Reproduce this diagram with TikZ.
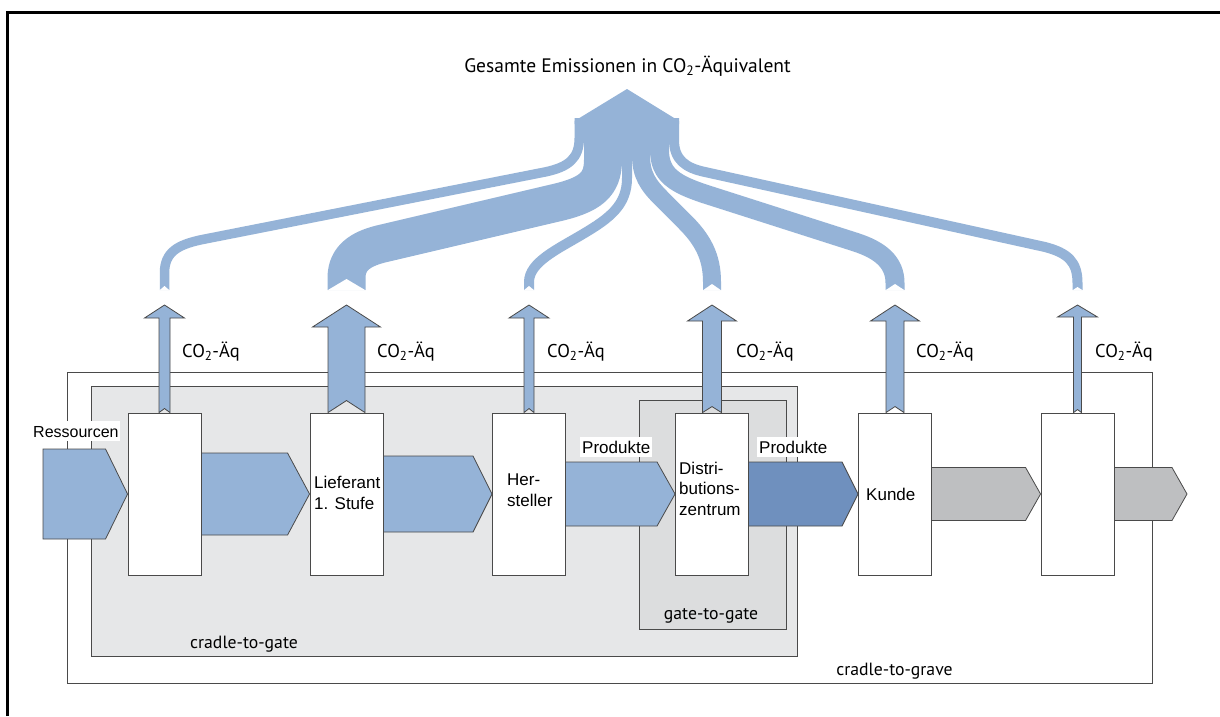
\documentclass[tikz,border=0pt]{standalone}
\usepackage{fontspec}
\setmainfont{Liberation Sans}
\newfontfamily\myriadlike{PT Sans}
\usetikzlibrary{calc}
\pgfdeclarelayer{bg}
\pgfsetlayers{bg,main}

\definecolor{flowblue}{HTML}{95B3D7}
\definecolor{flowdark}{HTML}{6F90BE}
\definecolor{flowgray}{HTML}{BEBFC1}
\definecolor{gatefill}{HTML}{E6E7E8}
\definecolor{innerfill}{HTML}{DCDDDE}
\definecolor{edgegray}{HTML}{4A4A4A}

% block arrow pointing right: style, tail point, tip point, half height, tip depth
\newcommand\flowarrow[5]{%
  \path[#1] let \p1=(#2), \p2=(#3) in
    (\x1,\y2+#4pt) -- (\x2-#5pt,\y2+#4pt) -- (\x2,\y2) -- (\x2-#5pt,\y2-#4pt) -- (\x1,\y2-#4pt) -- cycle;}
% emission arrow pointing up: base node, tip, shaft half width, head half width, head length, tail notch
\newcommand\emitarrow[6]{%
  \path[flowshape,fill=flowblue] let \p1=(#1.north), \p2=(#2) in
    (\x1-#3pt,\y1) -- (\x1-#3pt,\y2-#5pt) -- (\x1-#4pt,\y2-#5pt) -- (\x2,\y2)
    -- (\x1+#4pt,\y2-#5pt) -- (\x1+#3pt,\y2-#5pt) -- (\x1+#3pt,\y1) -- (\x1,\y1+#6pt) -- cycle;}
% fishtail at the lower end of a collecting band: x, half width, depth
\newcommand\bandnotch[3]{%
  \fill[white] (#1-#2-0.6,290.6) -- (#1,290-#3) -- (#1+#2+0.6,290.6) -- cycle;}

\begin{document}
\begin{tikzpicture}[x=1pt,y=-1pt,
  stagebox/.style={draw=edgegray,line width=0.9pt,fill=white,minimum width=73pt,minimum height=162pt,inner sep=0pt},
  scopebox/.style={draw=edgegray,line width=1pt},
  flowshape/.style={draw=edgegray,line width=0.8pt,line join=miter},
  band/.style={draw=flowblue,line cap=butt,line join=round},
  boxlabel/.style={font=\fontsize{17}{20.5}\selectfont,inner sep=0pt,align=left,anchor=base west},
  scopelabel/.style={font=\myriadlike\fontsize{17.7}{21}\selectfont,inner sep=0pt,anchor=base},
  colabel/.style={font=\myriadlike\fontsize{18.5}{22}\selectfont,inner sep=0pt,anchor=base west},
  tag/.style={fill=white,inner xsep=2pt,inner ysep=3pt,text height=13pt,text depth=1pt,anchor=base west}
]
\useasboundingbox (0,0) rectangle (1220,716);

% process stages
\node[stagebox] (s1) at (164.5,494) {};
\node[stagebox] (s2) at (346.5,494) {};
\node[stagebox] (s3) at (529,494) {};
\node[stagebox] (s4) at (712,494) {};
\node[stagebox] (s5) at (895,494) {};
\node[stagebox] (s6) at (1077.5,494) {};
\coordinate (res) at (43,494);
\coordinate (out) at (1187,494);

\begin{pgfonlayer}{bg}
  \fill[white] (0,0) rectangle (1220,716);
  \draw[line width=3pt] (7.5,716) -- (7.5,12.5) -- (1220,12.5);
  % system boundaries
  \draw[scopebox,fill=white] (67,372) rectangle (1152,683);
  \draw[scopebox,fill=gatefill] (91,386) rectangle (797,656);
  \draw[scopebox,fill=innerfill] (639,400) rectangle (786,629);
  % material flow
  \flowarrow{flowshape,fill=flowblue}{res}{s1.west}{45}{22}
  \flowarrow{flowshape,fill=flowblue}{s1.center}{s2.west}{41}{22}
  \flowarrow{flowshape,fill=flowblue}{s2.center}{s3.west}{38}{19}
  \flowarrow{flowshape,fill=flowblue}{s3.center}{s4.west}{32}{18}
  \flowarrow{flowshape,fill=flowdark}{s4.center}{s5.west}{32}{16}
  \flowarrow{flowshape,fill=flowgray}{s5.center}{s6.west}{26.5}{15}
  \flowarrow{flowshape,fill=flowgray}{s6.center}{out}{26.5}{15}
\end{pgfonlayer}

\node[scopelabel] (lgrave) at (894.5,675) {cradle-to-grave};
\node[scopelabel] (lcradle) at (244,648) {cradle-to-gate};
\node[scopelabel] (lgate) at (711,619) {gate-to-gate};

% emissions of each stage
\coordinate (e1) at (164.5,305);
\coordinate (e2) at (346.5,305);
\coordinate (e3) at (529,305);
\coordinate (e4) at (712,305);
\coordinate (e5) at (895,305);
\coordinate (e6) at (1077.5,305);
\emitarrow{s1}{e1}{5.5}{20}{13}{4}
\emitarrow{s2}{e2}{18.5}{34}{22}{12}
\emitarrow{s3}{e3}{5}{20}{13}{4}
\emitarrow{s4}{e4}{9.5}{24.5}{16}{6}
\emitarrow{s5}{e5}{9}{24.5}{16}{6}
\emitarrow{s6}{e6}{4}{20}{12}{3}

% collecting bands into the total
\draw[band,line width=9.5pt] (164.5,290) -- (164.5,273) .. controls (164.5,252) and (178,245) .. (200,240)
  -- (545,172) .. controls (569,167) and (579.25,158) .. (579.25,138) -- (579.25,118);
\draw[band,line width=38pt] (346.5,290) -- (346.5,278) .. controls (346.5,257) and (362,248) .. (385,243)
  -- (555,203) .. controls (590,195) and (603,185) .. (603,160) -- (603,118);
\draw[band,line width=10pt] (529,290) -- (529,282) .. controls (529,262) and (558,249) .. (583,234)
  .. controls (610,218) and (627,205) .. (627,178) -- (627,118);
\draw[band,line width=18pt] (712,290) -- (712,282) .. controls (712,257) and (703,240) .. (685,222)
  -- (662,199) .. controls (648,185) and (641,175) .. (641,155) -- (641,118);
\draw[band,line width=19pt] (895,290) -- (895,283) .. controls (895,262) and (880,250) .. (855,242)
  -- (705,194) .. controls (675,184) and (659.5,175) .. (659.5,150) -- (659.5,118);
\draw[band,line width=10pt] (1077.5,290) -- (1077.5,283) .. controls (1077.5,262) and (1068,253) .. (1045,247)
  -- (705,172) .. controls (686,168) and (674,160) .. (674,140) -- (674,118);
\fill[flowblue] (574.5,124) -- (574.5,121) -- (627,89) -- (679,121) -- (679,124) -- cycle;
\bandnotch{164.5}{4.75}{4}
\bandnotch{346.5}{19}{11}
\bandnotch{529}{5}{4}
\bandnotch{712}{9}{6}
\bandnotch{895}{9.5}{6}
\bandnotch{1077.5}{5}{3}

% texts
\node[font=\myriadlike\fontsize{19.5}{24}\selectfont,anchor=base,inner sep=0pt] (title) at (627.5,72)
  {Gesamte Emissionen in CO\textsubscript{2}-Äquivalent};
\node[colabel] (c1) at (182,357) {CO\textsubscript{2}-Äq};
\node[colabel] (c2) at (377,357) {CO\textsubscript{2}-Äq};
\node[colabel] (c3) at (547,357) {CO\textsubscript{2}-Äq};
\node[colabel] (c4) at (736,357) {CO\textsubscript{2}-Äq};
\node[colabel] (c5) at (916,357) {CO\textsubscript{2}-Äq};
\node[colabel] (c6) at (1095,357) {CO\textsubscript{2}-Äq};

\node[tag,inner xsep=1pt,font=\fontsize{16}{19}\selectfont] (tres) at (32,437) {Ressourcen};
\node[tag,font=\fontsize{17}{20}\selectfont] (tp1) at (580,453) {Produkte};
\node[tag,font=\fontsize{17}{20}\selectfont] (tp2) at (757,453) {Produkte};

% multi-line labels are anchored at the baseline of their last line
\node[boxlabel] (l2) at (314,509) {Lieferant\\1. Stufe};
\node[boxlabel] (l3) at (507,506) {Her-\\steller};
\node[boxlabel] (l4) at (679,515) {Distri-\\butions-\\zentrum};
\node[boxlabel] (l5) at (866,500) {Kunde};
\end{tikzpicture}
\end{document}
